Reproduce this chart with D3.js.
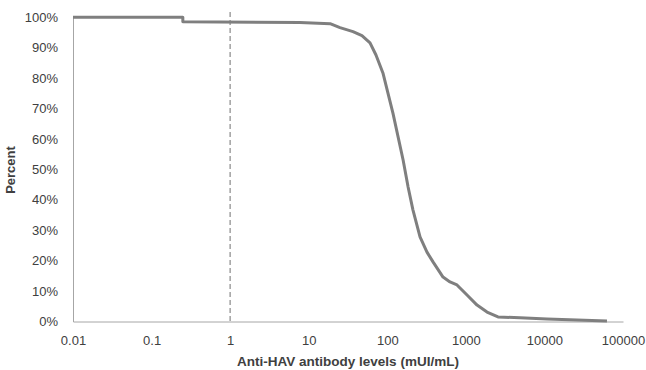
<!DOCTYPE html>
<html>
<head>
<meta charset="utf-8">
<script src="https://cdn.jsdelivr.net/npm/d3@7"></script>
<style>
  body { margin: 0; background: #fff; }
  text { font-family: 'Liberation Sans', Arial, sans-serif; fill: #404040; }
</style>
</head>
<body>
<script>
// antibody level (mUI/mL) and percent of subjects at or above that level
const levels = [0.01, 0.25, 0.25, 7.7, 18.7, 25, 36.6, 47.6, 60.3, 71.8, 88, 118, 159, 184, 212, 261, 320, 382, 512, 628, 771, 1035, 1387, 1859, 2566, 4887, 10790, 62500];
const percents = [100, 100, 98.5, 98.3, 97.9, 96.6, 95.3, 94.0, 91.6, 87.6, 81.7, 68.5, 53.1, 44.2, 36.7, 27.8, 22.8, 19.6, 14.6, 13.0, 12.0, 8.7, 5.4, 3.1, 1.5, 1.2, 0.8, 0.2];
const xTicks = [0.01, 0.1, 1, 10, 100, 1000, 10000, 100000];
const xTickLabels = ['0.01', '0.1', '1', '10', '100', '1000', '10000', '100000'];
const yTicks = [0, 10, 20, 30, 40, 50, 60, 70, 80, 90, 100];
const cutoff = 1;

const w = 646, h = 370;
const svg = d3.select('body').append('svg').attr('width', w).attr('height', h);

const x = d3.scaleLog().domain([0.01, 100000]).range([73, 623]);
const y = d3.scaleLinear().domain([0, 100]).range([321.5, 17.3]);

// y axis
const yAxis = d3.axisLeft(y).tickValues(yTicks).tickSize(0).tickPadding(15)
  .tickFormat(d => d + '%');
const gy = svg.append('g').attr('transform', 'translate(73,0)').call(yAxis);
gy.select('.domain').attr('stroke', '#a6a6a6');
gy.selectAll('text').style('font-size', '13px').style('font-family', null).attr('fill', '#404040');

// x axis
const xAxis = d3.axisBottom(x).tickValues(xTicks).tickSize(0).tickPadding(14)
  .tickFormat((d, i) => xTickLabels[i]);
const gx = svg.append('g').attr('transform', 'translate(0,321.5)').call(xAxis);
gx.select('.domain').attr('stroke', '#a6a6a6');
gx.selectAll('text').style('font-size', '13px').style('font-family', null).attr('fill', '#404040');

// dashed cutoff line
svg.append('line')
  .attr('x1', x(cutoff)).attr('x2', x(cutoff))
  .attr('y1', 12).attr('y2', y(0))
  .attr('stroke', '#a0a0a0').attr('stroke-width', 1.5)
  .attr('stroke-dasharray', '5,3');

// the curve
const line = d3.line().x(d => x(d[0])).y(d => y(d[1]));
svg.append('path')
  .datum(levels.map((v, i) => [v, percents[i]]))
  .attr('d', line)
  .attr('fill', 'none')
  .attr('stroke', '#7f7f7f')
  .attr('stroke-width', 3)
  .attr('stroke-linejoin', 'round');

// axis titles
svg.append('text')
  .attr('transform', 'translate(15,170) rotate(-90)')
  .attr('text-anchor', 'middle')
  .style('font-size', '13px').style('font-weight', 'bold')
  .text('Percent');

svg.append('text')
  .attr('x', 348).attr('y', 366)
  .attr('text-anchor', 'middle')
  .style('font-size', '13.5px').style('font-weight', 'bold')
  .text('Anti-HAV antibody levels (mUI/mL)');
</script>
</body>
</html>
